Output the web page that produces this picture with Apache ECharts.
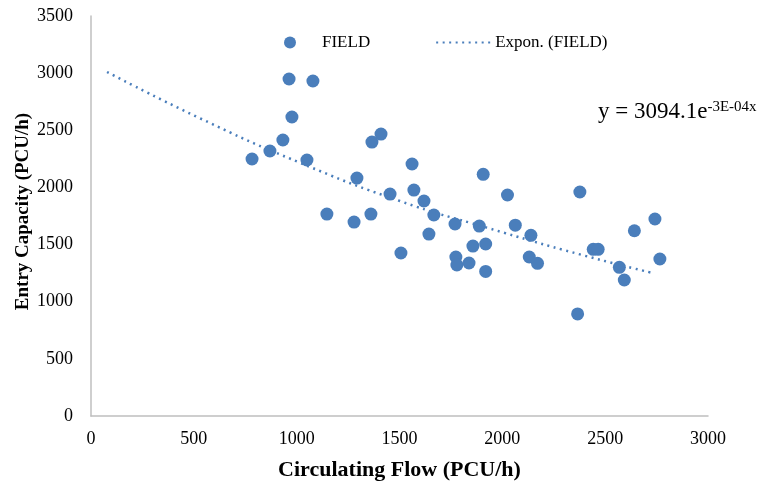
<!DOCTYPE html>
<html>
<head>
<meta charset="utf-8">
<script src="https://cdn.jsdelivr.net/npm/echarts@6/dist/echarts.min.js"></script>
<style>html,body{margin:0;padding:0;background:#fff}#c{width:763px;height:487px}</style>
</head>
<body>
<div id="c"></div>
<script>
// Circulating flow (PCU/h) of field observations
var fieldX = [783, 870, 933, 963, 977, 1050, 1079, 1147, 1279, 1293, 1361, 1366, 1410, 1454, 1507, 1561, 1570, 1619, 1643, 1667, 1770, 1774, 1779, 1838, 1857, 1888, 1907, 1919, 1919, 2025, 2063, 2131, 2139, 2171, 2366, 2377, 2442, 2466, 2569, 2593, 2642, 2742, 2766];
// Entry capacity (PCU/h) of field observations
var fieldY = [2249, 2319, 2415, 2949, 2616, 2240, 2931, 1767, 1697, 2082, 1767, 2397, 2467, 1942, 1426, 2205, 1977, 1881, 1592, 1759, 1680, 1391, 1321, 1339, 1487, 1662, 2115, 1505, 1265, 1934, 1670, 1391, 1581, 1336, 893, 1960, 1458, 1458, 1301, 1190, 1621, 1724, 1374];
// Exponential trend line
var trendX = [78, 530, 1016, 1502, 1925, 2377, 2737];
var trendY = [3010, 2605, 2216, 1881, 1648, 1414, 1249];
var xTicks = [0, 500, 1000, 1500, 2000, 2500, 3000];
var yTicks = [0, 500, 1000, 1500, 2000, 2500, 3000, 3500];

var serif = '"Liberation Serif", "Times New Roman", serif';
var blue = '#4A7EBB';
var fieldData = fieldX.map(function (x, i) { return [x, fieldY[i]]; });
var trendData = trendX.map(function (x, i) { return [x, trendY[i]]; });

var chart = echarts.init(document.getElementById('c'));
chart.setOption({
  animation: false,
  backgroundColor: '#fff',
  grid: { left: 91, right: 55, top: 16, bottom: 71 },
  legend: {
    top: 29, left: 279,
    itemGap: 65,
    textStyle: { fontFamily: serif, fontSize: 17, color: '#000' },
    data: [
      { name: 'FIELD', icon: 'circle', itemStyle: { opacity: 1 } },
      { name: 'Expon. (FIELD)', itemStyle: { color: 'rgba(0,0,0,0)', borderWidth: 0 } }
    ],
    itemWidth: 54, itemHeight: 12
  },
  xAxis: {
    type: 'value', min: xTicks[0], max: xTicks[xTicks.length - 1], interval: 500,
    name: 'Circulating Flow (PCU/h)', nameLocation: 'middle', nameGap: 43,
    nameTextStyle: { fontFamily: serif, fontSize: 22, fontWeight: 'bold', color: '#000' },
    axisLine: { lineStyle: { color: '#BFBFBF', width: 1.5 } },
    axisTick: { show: false },
    splitLine: { show: false },
    axisLabel: { fontFamily: serif, fontSize: 18, color: '#000', margin: 14, formatter: function (v) { return String(v); } }
  },
  yAxis: {
    type: 'value', min: yTicks[0], max: yTicks[yTicks.length - 1], interval: 500,
    name: 'Entry Capacity (PCU/h)', nameLocation: 'middle', nameGap: 58, nameMoveOverlap: false,
    nameTextStyle: { fontFamily: serif, fontSize: 19, fontWeight: 'bold', color: '#000', padding: [0, 0, 0, 9] },
    axisLine: { show: true, lineStyle: { color: '#BFBFBF', width: 1.5 } },
    axisTick: { show: false },
    splitLine: { show: false },
    axisLabel: { fontFamily: serif, fontSize: 18, color: '#000', margin: 18, formatter: function (v) { return String(v); } }
  },
  graphic: [{
    type: 'text', left: 598, top: 100,
    style: {
      text: '{b|y = 3094.1e}{s|-3E-04x}',
      rich: {
        b: { fontFamily: serif, fontSize: 23, color: '#000' },
        s: { fontFamily: serif, fontSize: 15, color: '#000', verticalAlign: 'top', padding: [0, 0, 8, 0] }
      }
    }
  }],
  series: [
    {
      name: 'Expon. (FIELD)', type: 'line', data: trendData, smooth: true,
      showSymbol: false, symbol: 'none',
      lineStyle: { color: blue, width: 2.5, type: [2, 4.5] },
      itemStyle: { color: blue }
    },
    {
      name: 'FIELD', type: 'scatter', data: fieldData, symbolSize: 13,
      itemStyle: { color: blue, opacity: 1 }
    }
  ]
});
</script>
</body>
</html>
